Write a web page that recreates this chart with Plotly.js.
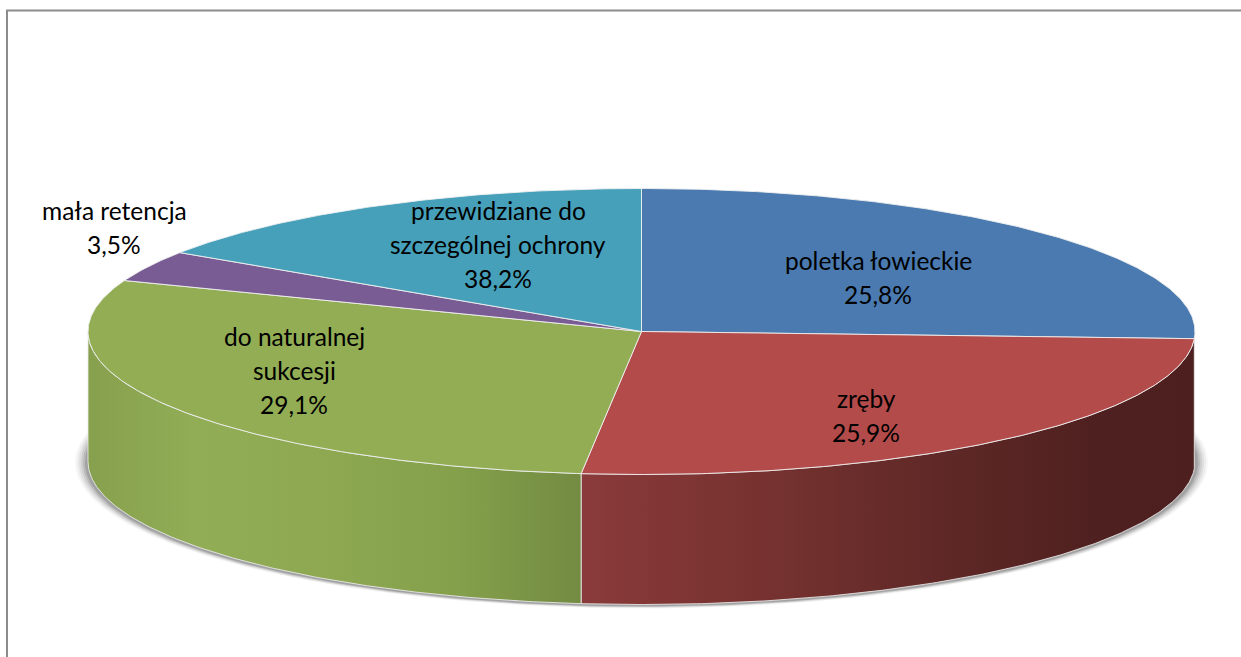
<!DOCTYPE html>
<html>
<head>
<meta charset="utf-8">
<script src="https://cdn.plot.ly/plotly-3.0.1.min.js"></script>
<style>html,body{margin:0;padding:0;background:#fff;overflow:hidden}</style>
</head>
<body>
<div id="chart" style="width:1241px;height:657px"></div>
<script>
// Data: slice sizes follow the drawn angles, labels follow the printed text
const categories = ["poletka łowieckie", "zręby", "do naturalnej sukcesji", "mała retencja", "przewidziane do szczególnej ochrony"];
const sliceShares = [25.8, 25.94, 29.06, 3.5, 15.7];
const printedValues = ["25,8%", "25,9%", "29,1%", "3,5%", "38,2%"];
const labelLines = [["poletka łowieckie"], ["zręby"], ["do naturalnej", "sukcesji"], ["mała retencja"], ["przewidziane do", "szczególnej ochrony"]];
const topColors = ["#4A7AAF", "#B24B4A", "#92AD54", "#7A5C94", "#46A0BA"];

// Drawing geometry
const CX = 641.5, CY = 331.5, RX = 553.5, RY = 143, DEPTH = 130;
const labelCentres = [[878, 260], [866, 398], [294, 336], [114, 210], [498, 210]];
const LINE_STEP = 34;

const pt = (deg, dy = 0, rx = RX, ry = RY) => {
  const a = deg * Math.PI / 180;
  return [CX + rx * Math.sin(a), CY + dy - ry * Math.cos(a)];
};
const arc = (from, to, dy = 0) => {
  const out = [];
  const n = Math.max(2, Math.ceil(Math.abs(to - from) * 2));
  for (let i = 0; i <= n; i++) out.push(pt(from + (to - from) * i / n, dy));
  return out;
};
const total = sliceShares.reduce((a, b) => a + b, 0);
let acc = 0;
const spans = sliceShares.map(v => { const s = acc; acc += v; return [s / total * 360, acc / total * 360]; });

const traces = [];
const poly = (pts, extra) => traces.push(Object.assign({
  type: "scatter", mode: "lines", x: pts.map(p => p[0]), y: pts.map(p => p[1]),
  fill: "toself", hoverinfo: "skip", showlegend: false
}, extra));

// soft shadow below the wall
[[13, 3, .035], [11, 2.5, .05], [9, 2, .07], [7, 1.6, .09], [5, 1.2, .12], [3, .8, .16]].forEach(([gx, gy, alpha]) => {
  const pts = [];
  for (let d = 0; d <= 360; d += 1) pts.push(pt(d, DEPTH + 1, RX + gx, RY + gy));
  poly(pts, { line: { width: 0 }, fillcolor: `rgba(40,40,40,${alpha})` });
});

// side walls: red and green slices are the ones that face the viewer
const wallLine = { color: "rgba(235,235,235,0.85)", width: 1 };
const wall = (from, to, stops, x0, x1) => poly(
  arc(from, to).concat(arc(to, from, DEPTH), [pt(from)]),
  { line: wallLine, fillgradient: { type: "horizontal", start: x0, stop: x1, colorscale: stops } }
);
wall(spans[1][0], spans[1][1],
  [[0, "#8A3A3A"], [0.3, "#763230"], [0.6, "#5E2826"], [0.85, "#4E201F"], [1, "#4D1F1E"]], 581, 1195);
wall(spans[2][0], 270,
  [[0, "#87A04E"], [0.22, "#91AD55"], [0.5, "#8DA851"], [0.75, "#84A04B"], [1, "#738B42"]], 88, 581);

// top faces
spans.forEach(([from, to], i) => {
  const pts = [[CX, CY]].concat(arc(from, to), [[CX, CY]]);
  poly(pts, { line: { color: "rgba(240,240,240,0.9)", width: 1 }, fillcolor: topColors[i] });
});

// labels
const annotations = [];
categories.forEach((name, i) => {
  const lines = labelLines[i].concat([printedValues[i]]);
  lines.forEach((t, j) => annotations.push({
    x: labelCentres[i][0], y: labelCentres[i][1] + j * LINE_STEP, xref: "x", yref: "y",
    text: t, showarrow: false, xanchor: "center", yanchor: "middle",
    font: { family: "Lato, Carlito, sans-serif", size: 24.5, color: "#000" }
  }));
});

const layout = {
  width: 1241, height: 657, margin: { l: 0, r: 0, t: 0, b: 0 },
  paper_bgcolor: "#fff", plot_bgcolor: "#fff", hovermode: false, showlegend: false,
  xaxis: { range: [0, 1241], visible: false, fixedrange: true },
  yaxis: { range: [657, 0], visible: false, fixedrange: true },
  annotations,
  shapes: [{ type: "rect", xref: "x", yref: "y", x0: 7, y0: 10.5, x1: 1300, y1: 700,
    line: { color: "#8C8C8C", width: 2 }, fillcolor: "rgba(0,0,0,0)", layer: "below" }]
};
Plotly.newPlot("chart", traces, layout, { displayModeBar: false, staticPlot: true });
</script>
</body>
</html>
